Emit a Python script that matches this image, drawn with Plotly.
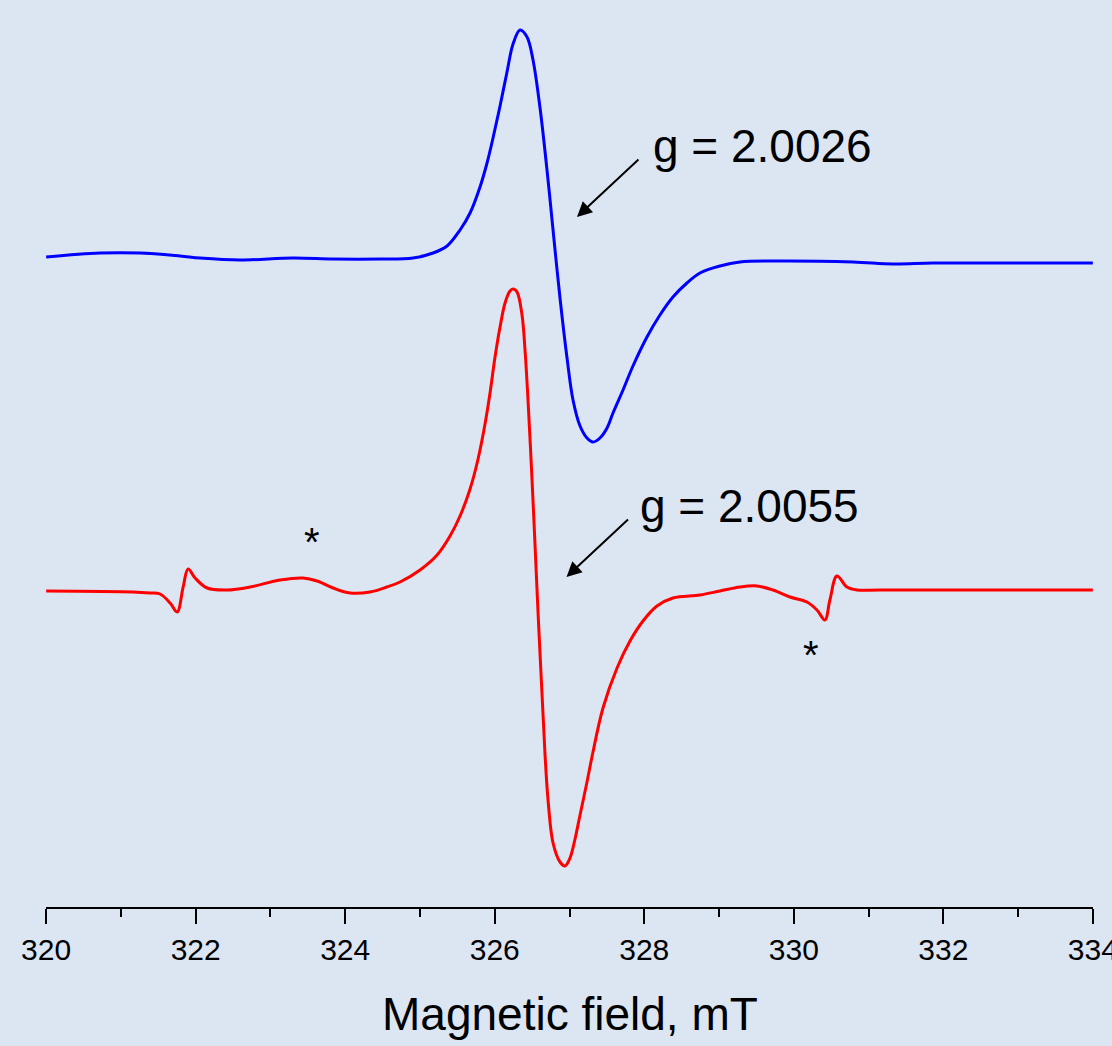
import plotly.graph_objects as go

# ---- data (magnetic field in mT, EPR first-derivative intensity in arbitrary units) ----
field_blue = [320.000, 320.722, 321.257, 321.792, 322.059, 322.594, 323.303, 323.838, 324.466,
              324.907, 325.175, 325.362, 325.536, 325.670, 325.803, 325.897, 325.977, 326.071,
              326.164, 326.245, 326.338, 326.432, 326.512, 326.606, 326.699, 326.780, 326.873,
              326.967, 327.047, 327.141, 327.234, 327.314, 327.408, 327.502, 327.582, 327.716,
              327.849, 328.036, 328.210, 328.384, 328.571, 328.745, 329.013, 329.280, 329.721,
              330.791, 331.326, 331.861, 332.756, 334.000]
signal_blue = [0.01, 0.05, 0.05, 0.02, 0.00, -0.02, 0.00, -0.01, -0.01,
               0.00, 0.05, 0.12, 0.28, 0.45, 0.71, 0.95, 1.20, 1.52,
               1.86, 2.14, 2.28, 2.21, 1.98, 1.50, 0.88, 0.28, -0.40,
               -1.00, -1.42, -1.68, -1.80, -1.84, -1.80, -1.70, -1.55, -1.32,
               -1.08, -0.79, -0.57, -0.39, -0.25, -0.15, -0.08, -0.04, -0.03,
               -0.04, -0.06, -0.05, -0.05, -0.05]

field_red = [320.000, 321.163, 321.391, 321.524, 321.658, 321.752, 321.832, 321.899, 321.992,
             322.153, 322.420, 322.728, 323.129, 323.436, 323.624, 323.838, 324.065, 324.332,
             324.560, 324.734, 325.001, 325.229, 325.402, 325.536, 325.670, 325.777, 325.870,
             325.937, 326.004, 326.071, 326.138, 326.204, 326.245, 326.298, 326.365, 326.405,
             326.445, 326.499, 326.539, 326.579, 326.633, 326.673, 326.713, 326.780, 326.873,
             326.940, 327.007, 327.074, 327.141, 327.234, 327.314, 327.448, 327.636, 327.809,
             327.983, 328.170, 328.384, 328.745, 329.013, 329.280, 329.508, 329.721, 329.949,
             330.176, 330.310, 330.416, 330.483, 330.577, 330.711, 330.844, 331.152, 334.000]
signal_red = [0.00, -0.01, -0.02, -0.03, -0.12, -0.21, 0.04, 0.22, 0.13,
              0.03, 0.01, 0.04, 0.11, 0.13, 0.10, 0.03, -0.02, -0.01,
              0.04, 0.09, 0.21, 0.36, 0.55, 0.75, 1.02, 1.32, 1.67,
              1.98, 2.34, 2.64, 2.88, 3.00, 3.02, 2.99, 2.76, 2.41,
              1.91, 1.11, 0.46, -0.21, -1.04, -1.64, -2.09, -2.52, -2.71,
              -2.75, -2.67, -2.48, -2.24, -1.91, -1.61, -1.17, -0.77, -0.50,
              -0.30, -0.15, -0.07, -0.04, 0.00, 0.04, 0.05, 0.01, -0.06,
              -0.11, -0.19, -0.29, -0.09, 0.15, 0.04, 0.01, 0.01, 0.01]

# vertical stacking offsets of the two spectra
offset_blue = 6.49
offset_red = 3.16

x_ticks = [320, 322, 324, 326, 328, 330, 332, 334]
x_tick_labels = ["320", "322", "324", "326", "328", "330", "332", "334"]

labels = ["g = 2.0026", "g = 2.0055"]
label_field = [328.09, 327.92]
label_level = [7.61, 4.01]
arrow_head_field = [327.10, 326.96]
arrow_head_level = [6.90, 3.30]
star_field = [323.56, 330.23]
star_level = [3.65, 2.52]

BG = "#dce6f2"
FONT = "Arial, Liberation Sans, sans-serif"

fig = go.Figure()
fig.add_trace(go.Scatter(x=field_blue, y=[v + offset_blue for v in signal_blue], mode="lines",
                         line=dict(color="#0000ff", width=3, shape="spline", smoothing=1.0),
                         showlegend=False))
fig.add_trace(go.Scatter(x=field_red, y=[v + offset_red for v in signal_red], mode="lines",
                         line=dict(color="#ff0000", width=3, shape="spline", smoothing=1.0),
                         showlegend=False))

annotations = []
for t, xf, yl in zip(labels, label_field, label_level):
    annotations.append(dict(x=xf, y=yl, xref="x", yref="y", text=t, showarrow=False,
                            xanchor="left", yanchor="middle",
                            font=dict(family=FONT, size=46, color="black")))
for xh, yh in zip(arrow_head_field, arrow_head_level):
    annotations.append(dict(x=xh, y=yh, xref="x", yref="y", text="", showarrow=True,
                            ax=63, ay=-59, axref="pixel", ayref="pixel",
                            arrowhead=2, arrowsize=1.5, arrowwidth=2, arrowcolor="black",
                            standoff=0, startstandoff=0))
for xs, ys in zip(star_field, star_level):
    annotations.append(dict(x=xs, y=ys, xref="x", yref="y", text="*", showarrow=False,
                            xanchor="center", yanchor="middle",
                            font=dict(family=FONT, size=40, color="black")))
annotations.append(dict(x=0.5, y=-0.118, xref="paper", yref="paper", text="Magnetic field, mT",
                        showarrow=False, xanchor="center", yanchor="middle",
                        font=dict(family=FONT, size=46, color="black")))

fig.update_layout(
    width=1112, height=1046,
    margin=dict(l=46, r=19, t=0, b=139),
    paper_bgcolor=BG, plot_bgcolor=BG,
    annotations=annotations,
    xaxis=dict(range=[320 - 0.002, 334 + 0.002], showgrid=False, zeroline=False,
               showline=True, linecolor="black", linewidth=2, automargin=False,
               tickmode="array", tickvals=x_ticks, ticktext=x_tick_labels,
               ticks="outside", ticklen=15, tickwidth=2, tickcolor="black",
               ticklabeloverflow="allow",
               minor=dict(dtick=1, ticks="outside", ticklen=8, tickwidth=2, tickcolor="black",
                          showgrid=False),
               tickfont=dict(family=FONT, size=30, color="black"), fixedrange=True),
    yaxis=dict(range=[0, 9.07], visible=False, fixedrange=True),
)

fig.write_html(
    "out.html",
    config={"displayModeBar": False},
    post_script="document.body.style.margin='0';document.body.style.background='#dce6f2';",
)
